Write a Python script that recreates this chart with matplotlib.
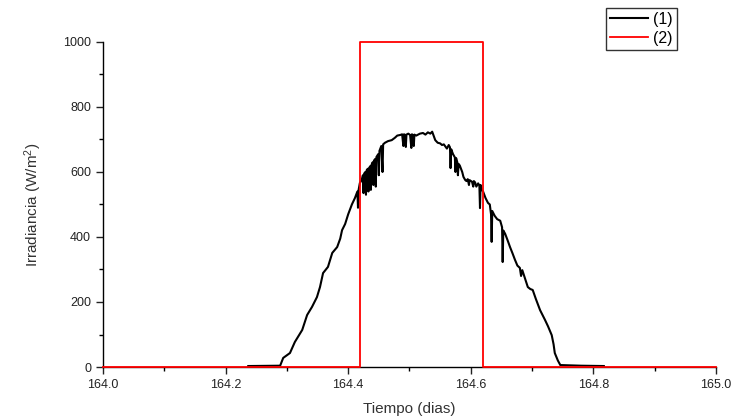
import numpy as np
import matplotlib.pyplot as plt

plt.rcParams['font.family'] = ['Liberation Sans', 'DejaVu Sans']
plt.rcParams['mathtext.default'] = 'regular'

# serie (1): irradiancia medida
tiempo = [164.237, 164.289, 164.294, 164.305, 164.313, 164.325, 164.333, 164.341,
          164.349, 164.354, 164.359, 164.367, 164.374, 164.382, 164.387, 164.390,
          164.395, 164.400, 164.406, 164.411, 164.415, 164.416, 164.417, 164.419,
          164.422, 164.424, 164.425, 164.426, 164.428, 164.429, 164.430, 164.432,
          164.433, 164.434, 164.436, 164.437, 164.438, 164.440, 164.441, 164.442,
          164.444, 164.445, 164.446, 164.449, 164.450, 164.451, 164.452, 164.454,
          164.456, 164.457, 164.460, 164.465, 164.471, 164.476, 164.480, 164.485,
          164.488, 164.490, 164.491, 164.493, 164.494, 164.495, 164.498, 164.501,
          164.503, 164.504, 164.506, 164.507, 164.508, 164.511, 164.517, 164.522,
          164.526, 164.530, 164.534, 164.537, 164.540, 164.542, 164.546, 164.550,
          164.553, 164.556, 164.561, 164.564, 164.566, 164.567, 164.568, 164.571,
          164.574, 164.575, 164.576, 164.578, 164.579, 164.580, 164.582, 164.586,
          164.588, 164.591, 164.593, 164.595, 164.597, 164.598, 164.602, 164.604,
          164.605, 164.607, 164.609, 164.612, 164.614, 164.615, 164.616, 164.618,
          164.620, 164.624, 164.628, 164.631, 164.633, 164.634, 164.635, 164.639,
          164.643, 164.648, 164.651, 164.652, 164.653, 164.656, 164.660, 164.664,
          164.668, 164.672, 164.676, 164.680, 164.682, 164.684, 164.688, 164.693,
          164.697, 164.701, 164.706, 164.713, 164.717, 164.721, 164.726, 164.732,
          164.735, 164.737, 164.742, 164.746, 164.780, 164.817]
irradiancia = [3, 4, 28, 43, 77, 114, 160, 185,
               215, 246, 289, 308, 351, 369, 395, 421,
               440, 470, 500, 520, 540, 490, 545, 566,
               575, 590, 535, 595, 600, 530, 605, 610,
               540, 612, 618, 545, 622, 630, 560, 635,
               640, 555, 646, 655, 590, 665, 670, 680,
               600, 685, 690, 695, 698, 705, 712, 714,
               716, 680, 716, 714, 677, 715, 718, 714,
               674, 716, 713, 680, 715, 712, 718, 720,
               715, 722, 718, 724, 708, 698, 690, 688,
               683, 685, 672, 683, 676, 612, 670, 655,
               645, 600, 643, 630, 590, 625, 620, 600,
               585, 575, 572, 578, 560, 575, 570, 555,
               572, 568, 555, 565, 558, 489, 560, 545,
               540, 520, 505, 500, 470, 385, 480, 465,
               455, 450, 430, 323, 420, 410, 390, 369,
               350, 330, 312, 305, 280, 298, 275, 246,
               240, 237, 210, 175, 160, 145, 125, 98,
               70, 43, 20, 6, 4, 3]

# serie (2): ventana rectangular
tiempo_2 = [164.0, 164.42, 164.42, 164.62, 164.62, 165.0]
valor_2 = [0, 0, 1000, 1000, 0, 0]

fig = plt.figure(figsize=(7.34, 4.19), dpi=100)
ax = fig.add_axes([0.1403, 0.1241, 0.8352, 0.7757])

ax.plot(tiempo, irradiancia, color='black', lw=1.5, label='(1)')
ax.plot(tiempo_2, valor_2, color='red', lw=1.3, label='(2)', clip_on=False, zorder=5)

ax.set_xlim(164.0, 165.0)
ax.set_ylim(0, 1000)
ax.set_xticks(np.arange(164.0, 165.01, 0.2))
ax.set_xticks(np.arange(164.1, 165.0, 0.2), minor=True)
ax.set_yticks(np.arange(0, 1001, 200))
ax.set_yticks(np.arange(100, 1000, 200), minor=True)
ax.set_xticklabels(['164.0', '164.2', '164.4', '164.6', '164.8', '165.0'])

for s in ['top', 'right']:
    ax.spines[s].set_visible(False)
for s in ['left', 'bottom']:
    ax.spines[s].set_linewidth(1.0)

ax.tick_params(which='major', direction='out', length=5, width=1, labelsize=9, colors='#222222')
ax.tick_params(which='minor', direction='out', length=3, width=1)

ax.set_xlabel('Tiempo (dias)', fontsize=11, color='#333333', labelpad=8)
ax.set_ylabel('Irradiancia (W/m$^{2}$)', fontsize=11, color='#333333', labelpad=14)

leg = ax.legend(loc='upper left', bbox_to_anchor=(0.8206, 1.105), fontsize=11.5,
                frameon=True, fancybox=False, edgecolor='black', handlelength=2.4,
                handletextpad=0.3, borderpad=0.25, labelspacing=0.25, borderaxespad=0)
leg.get_frame().set_linewidth(1.0)

fig.savefig('out.png', dpi=100)
